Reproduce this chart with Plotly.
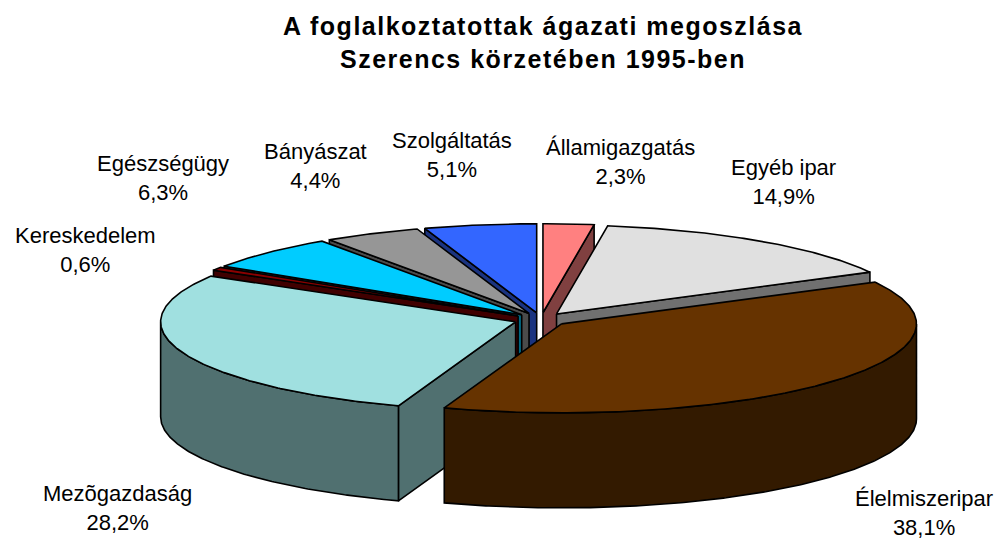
import numpy as np
import plotly.graph_objects as go

categories = ["Államigazgatás", "Egyéb ipar", "Élelmiszeripar", "Mezõgazdaság",
              "Kereskedelem", "Egészségügy", "Bányászat", "Szolgáltatás"]
values = [2.3, 14.9, 38.1, 28.2, 0.6, 6.3, 4.4, 5.1]
top_colors = ["#FF8080", "#E0E0E0", "#663300", "#A0E0E0",
              "#8B0000", "#00CCFF", "#969696", "#3366FF"]
side_colors = ["#804040", "#707070", "#331A00", "#507070",
               "#400000", "#006680", "#4B4B4B", "#1A3380"]
label_x = [620, 783, 924, 117, 85, 163, 315, 452]
label_y = [162, 182, 513, 508, 250, 178, 166, 155]
title_lines = ["A foglalkoztatottak ágazati megoszlása", "Szerencs körzetében 1995-ben"]

CX, CY, RX, RY, EXPLODE, DEPTH = 541.0, 319.5, 355.0, 89.0, 0.076, 95.0
FONT = "Liberation Sans, Arial, sans-serif"

fig = go.Figure()


def rim(deg, ox, oy):
    t = np.radians(deg)
    return ox + RX * np.sin(t), oy - RY * np.cos(t)


def poly(xs, ys, color):
    fig.add_trace(go.Scatter(
        x=list(xs) + [xs[0]], y=list(ys) + [ys[0]], mode="lines", fill="toself",
        fillcolor=color, line=dict(color="black", width=1.6),
        hoverinfo="skip", showlegend=False))


def cut_visible(t, r, c):
    ex, ey = r[0] - t[0], r[1] - t[1]
    down = ex * 1.0
    inner = ex * (c[1] - t[1]) - ey * (c[0] - t[0])
    return down * inner < 0


slices = []
acc = 0.0
total = sum(values)
for v, top, side in zip(values, top_colors, side_colors):
    a0 = acc / total * 360
    acc += v
    a1 = acc / total * 360
    mid = np.radians((a0 + a1) / 2)
    ox = CX + EXPLODE * RX * np.sin(mid)
    oy = CY - EXPLODE * RY * np.cos(mid)
    arc = np.linspace(a0, a1, max(3, int(a1 - a0) * 2))
    ax, ay = rim(arc, ox, oy)
    slices.append(dict(a0=a0, a1=a1, ox=ox, oy=oy, ax=ax, ay=ay, arc=arc, top=top, side=side,
                       cy=(oy + ay.sum()) / (len(ay) + 1)))

for s in sorted(slices, key=lambda q: q["cy"]):
    t = (s["ox"], s["oy"])
    c = (s["ax"][len(s["ax"]) // 2], s["ay"][len(s["ay"]) // 2])
    for i in (0, -1):
        r = (s["ax"][i], s["ay"][i])
        if cut_visible(t, r, c):
            poly([t[0], r[0], r[0], t[0]], [t[1], r[1], r[1] + DEPTH, t[1] + DEPTH], s["side"])
    lo, hi = max(s["a0"], 90), min(s["a1"], 270)
    if hi > lo:
        w = np.linspace(lo, hi, int(hi - lo) * 2 + 2)
        wx, wy = rim(w, s["ox"], s["oy"])
        poly(np.r_[wx, wx[::-1]], np.r_[wy, wy[::-1] + DEPTH], s["side"])
    poly(np.r_[t[0], s["ax"]], np.r_[t[1], s["ay"]], s["top"])

for name, v, x, y in zip(categories, values, label_x, label_y):
    fig.add_annotation(x=x, y=y, xref="x", yref="y", showarrow=False,
                       text=f"{name}<br>{v:.1f}%".replace(".", ","),
                       font=dict(family=FONT, size=22, color="black"), align="center")

fig.update_layout(
    width=995, height=539, margin=dict(l=0, r=0, t=0, b=0),
    paper_bgcolor="white", plot_bgcolor="white",
    title=dict(text="<br>".join(title_lines), x=543 / 995, xanchor="center",
               y=0.935, yanchor="top",
               font=dict(family=FONT, size=25, color="black", weight="bold")),
    xaxis=dict(range=[0, 995], visible=False, fixedrange=True),
    yaxis=dict(range=[539, 0], visible=False, fixedrange=True),
)
fig.write_html("out.html", config=dict(displayModeBar=False),
               post_script="document.body.style.margin='0';"
                           "document.querySelector('.gtitle').style.letterSpacing='1.5px';")
